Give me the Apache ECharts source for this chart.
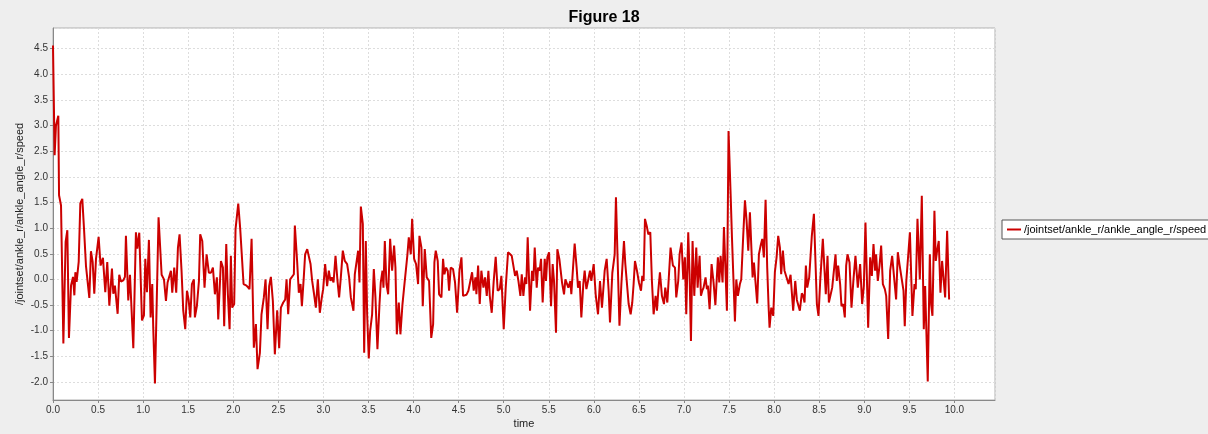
<!DOCTYPE html>
<html>
<head>
<meta charset="utf-8">
<title>Figure 18</title>
<script src="https://cdn.jsdelivr.net/npm/echarts@6/dist/echarts.min.js"></script>
<style>
  html, body { margin: 0; padding: 0; background: #eeeeee; }
  #chart { width: 1208px; height: 434px; }
</style>
</head>
<body>
<div id="chart"></div>
<script>
// Sample times (s) of the ankle speed trace
const times = [
  0.000, 0.018, 0.033, 0.059, 0.067, 0.089, 0.115, 0.140, 0.159, 0.177,
  0.200, 0.222, 0.237, 0.248, 0.262, 0.285, 0.303, 0.325, 0.344, 0.366,
  0.384, 0.403, 0.421, 0.440, 0.458, 0.477, 0.506, 0.528, 0.554, 0.580,
  0.602, 0.625, 0.654, 0.669, 0.687, 0.717, 0.735, 0.754, 0.780, 0.798,
  0.809, 0.835, 0.854, 0.891, 0.920, 0.935, 0.957, 0.987, 1.009, 1.024,
  1.042, 1.064, 1.083, 1.101, 1.112, 1.131, 1.171, 1.205, 1.231, 1.253,
  1.271, 1.293, 1.308, 1.323, 1.345, 1.367, 1.386, 1.404, 1.426, 1.445,
  1.467, 1.486, 1.504, 1.523, 1.541, 1.563, 1.574, 1.596, 1.619, 1.633,
  1.656, 1.681, 1.704, 1.729, 1.752, 1.774, 1.796, 1.818, 1.833, 1.863,
  1.885, 1.899, 1.922, 1.940, 1.959, 1.973, 1.988, 2.010, 2.025, 2.055,
  2.077, 2.092, 2.114, 2.147, 2.166, 2.180, 2.203, 2.228, 2.251, 2.269,
  2.295, 2.313, 2.339, 2.358, 2.380, 2.398, 2.417, 2.439, 2.461, 2.487,
  2.509, 2.528, 2.554, 2.576, 2.591, 2.609, 2.631, 2.653, 2.672, 2.683,
  2.709, 2.727, 2.746, 2.761, 2.783, 2.797, 2.820, 2.842, 2.857, 2.875,
  2.894, 2.916, 2.938, 2.960, 2.982, 2.997, 3.019, 3.041, 3.060, 3.078,
  3.093, 3.112, 3.134, 3.156, 3.174, 3.193, 3.215, 3.237, 3.263, 3.285,
  3.304, 3.333, 3.348, 3.370, 3.385, 3.400, 3.415, 3.437, 3.452, 3.470,
  3.485, 3.503, 3.518, 3.540, 3.559, 3.577, 3.599, 3.622, 3.636, 3.655,
  3.666, 3.681, 3.699, 3.718, 3.740, 3.762, 3.784, 3.799, 3.814, 3.836,
  3.854, 3.877, 3.895, 3.914, 3.932, 3.947, 3.969, 3.984, 4.006, 4.028,
  4.050, 4.065, 4.087, 4.102, 4.124, 4.146, 4.172, 4.196, 4.217, 4.231,
  4.246, 4.268, 4.283, 4.309, 4.327, 4.342, 4.361, 4.379, 4.394, 4.412,
  4.438, 4.460, 4.483, 4.509, 4.531, 4.549, 4.571, 4.586, 4.608, 4.630,
  4.649, 4.667, 4.686, 4.697, 4.716, 4.734, 4.752, 4.775, 4.793, 4.812,
  4.830, 4.845, 4.867, 4.889, 4.911, 4.933, 4.956, 4.974, 5.000, 5.022,
  5.048, 5.067, 5.089, 5.111, 5.126, 5.144, 5.163, 5.185, 5.200, 5.218,
  5.237, 5.251, 5.266, 5.292, 5.314, 5.329, 5.344, 5.366, 5.381, 5.399,
  5.414, 5.432, 5.455, 5.469, 5.484, 5.503, 5.525, 5.543, 5.558, 5.580,
  5.595, 5.617, 5.632, 5.647, 5.669, 5.684, 5.702, 5.717, 5.739, 5.750,
  5.769, 5.787, 5.809, 5.824, 5.843, 5.861, 5.883, 5.898, 5.917, 5.935,
  5.957, 5.972, 5.998, 6.020, 6.046, 6.068, 6.090, 6.120, 6.142, 6.164,
  6.179, 6.205, 6.231, 6.245, 6.260, 6.284, 6.305, 6.334, 6.349, 6.367,
  6.386, 6.408, 6.426, 6.441, 6.456, 6.478, 6.500, 6.523, 6.537, 6.552,
  6.567, 6.589, 6.604, 6.626, 6.644, 6.663, 6.685, 6.700, 6.715, 6.733,
  6.755, 6.778, 6.792, 6.815, 6.837, 6.851, 6.877, 6.900, 6.914, 6.936,
  6.951, 6.973, 6.992, 7.010, 7.025, 7.047, 7.062, 7.077, 7.095, 7.114,
  7.136, 7.151, 7.173, 7.188, 7.203, 7.217, 7.239, 7.254, 7.265, 7.284,
  7.306, 7.328, 7.348, 7.376, 7.391, 7.406, 7.428, 7.443, 7.461, 7.476,
  7.494, 7.517, 7.532, 7.546, 7.565, 7.580, 7.598, 7.620, 7.635, 7.657,
  7.676, 7.694, 7.713, 7.731, 7.746, 7.761, 7.776, 7.790, 7.812, 7.831,
  7.849, 7.868, 7.886, 7.905, 7.923, 7.938, 7.949, 7.968, 7.990, 8.008,
  8.027, 8.045, 8.064, 8.078, 8.097, 8.115, 8.137, 8.160, 8.182, 8.197,
  8.211, 8.234, 8.252, 8.267, 8.285, 8.307, 8.322, 8.337, 8.352, 8.367,
  8.389, 8.418, 8.441, 8.463, 8.474, 8.492, 8.511, 8.525, 8.540, 8.559,
  8.573, 8.592, 8.607, 8.625, 8.644, 8.662, 8.681, 8.695, 8.710, 8.732,
  8.747, 8.766, 8.784, 8.799, 8.814, 8.836, 8.858, 8.880, 8.902, 8.928,
  8.954, 8.976, 8.995, 9.013, 9.043, 9.065, 9.084, 9.102, 9.120, 9.131,
  9.150, 9.169, 9.187, 9.206, 9.228, 9.243, 9.265, 9.287, 9.309, 9.331,
  9.353, 9.372, 9.390, 9.405, 9.435, 9.449, 9.466, 9.485, 9.506, 9.534,
  9.557, 9.571, 9.590, 9.616, 9.638, 9.660, 9.675, 9.690, 9.704, 9.727,
  9.741, 9.756, 9.778, 9.793, 9.808, 9.826, 9.845, 9.863, 9.882, 9.897,
  9.919, 9.941
];

// /jointset/ankle_r/ankle_angle_r/speed at each sample time
const speed = [
  4.56, 2.42, 3.00, 3.19, 1.64, 1.44, -1.25, 0.73, 0.96, -1.14,
  -0.12, 0.05, -0.31, 0.14, -0.05, 0.34, 1.48, 1.57, 0.99, 0.26,
  0.24, -0.36, 0.55, 0.34, -0.28, 0.40, 0.83, 0.27, 0.42, -0.25,
  0.34, -0.51, 0.21, -0.28, -0.12, -0.67, 0.09, -0.04, -0.02, 0.05,
  0.85, -0.41, 0.09, -1.34, 0.92, 0.60, 0.91, -0.80, -0.70, 0.40,
  -0.25, 0.77, -0.74, -0.09, -0.94, -2.03, 1.21, 0.09, 0.00, -0.42,
  -0.06, -0.03, 0.17, -0.26, 0.23, -0.26, 0.62, 0.88, 0.17, -0.61,
  -0.97, -0.22, -0.39, -0.74, -0.09, 0.00, -0.74, -0.52, -0.03, 0.88,
  0.75, -0.16, 0.49, 0.13, 0.13, 0.23, -0.29, 0.04, -0.78, 0.36,
  0.23, -0.91, 0.69, -0.29, -0.97, 0.46, -0.55, -0.48, 0.98, 1.48,
  0.98, 1.01, -0.09, -0.12, -0.09, -0.19, 0.79, -1.33, -0.87, -1.75,
  -1.43, -0.68, -0.35, 0.00, -0.97, -0.13, 0.05, -0.42, -1.46, -0.60,
  -1.34, -0.55, -0.45, -0.39, 0.00, -0.68, 0.00, 0.00, 0.10, 1.05,
  0.33, -0.26, -0.09, -0.52, 0.07, 0.49, 0.59, 0.56, 0.30, -0.03,
  -0.26, -0.55, 0.00, -0.65, -0.35, -0.19, 0.30, -0.13, 0.17, -0.03,
  0.04, -0.06, 0.46, -0.03, -0.35, 0.04, 0.56, 0.36, 0.30, 0.04,
  -0.35, -0.61, 0.10, 0.10, 0.56, -0.06, 1.42, 1.08, -1.43, 0.75,
  -0.68, -1.54, -1.01, -0.68, 0.20, -0.35, -1.36, -0.48, -0.06, 0.17,
  -0.16, 0.75, -0.09, -0.29, 0.79, 0.17, 0.66, 0.23, -1.07, -0.45,
  -1.07, -0.48, -0.16, -0.13, 0.49, 0.82, 0.49, 1.18, 0.40, 0.30,
  -0.09, 0.85, 0.62, -0.52, 0.59, 0.04, -0.03, -1.14, -0.87, 0.33,
  0.56, 0.36, -0.29, -0.35, 0.40, 0.10, 0.23, 0.17, -0.22, 0.23,
  0.20, -0.06, -0.65, 0.17, 0.43, -0.32, -0.35, -0.30, -0.22, -0.03,
  0.14, -0.22, 0.04, -0.29, 0.27, -0.48, 0.17, -0.16, 0.04, -0.32,
  0.17, -0.32, -0.65, -0.03, 0.44, -0.22, -0.19, 0.07, -0.97, -0.16,
  0.53, 0.56, 0.46, 0.49, 0.07, 0.17, -0.03, -0.32, 0.10, -0.32,
  0.04, -0.09, 0.82, -0.61, 0.17, -0.03, 0.62, -0.16, 0.23, 0.17,
  0.40, -0.45, 0.40, -0.03, 0.43, 0.53, -0.52, 0.30, -0.03, -1.04,
  0.59, 0.40, 0.17, -0.06, -0.29, 0.00, -0.03, -0.16, -0.03, -0.29,
  0.23, 0.70, 0.23, -0.16, -0.03, -0.74, -0.09, 0.17, -0.19, -0.03,
  0.17, -0.03, 0.30, -0.29, -0.68, -0.03, -0.55, 0.17, 0.40, -0.22,
  -0.84, 0.13, 0.49, 1.60, 0.62, -0.90, -0.10, 0.75, 0.30, 0.33,
  -0.48, -0.68, -0.45, -0.09, 0.36, 0.17, -0.06, -0.22, 0.07, -0.03,
  1.18, 1.02, 0.88, 0.92, -0.03, -0.68, -0.32, -0.61, -0.22, 0.14,
  -0.32, -0.48, -0.16, -0.45, -0.45, 0.62, 0.27, 0.23, -0.35, -0.03,
  0.49, 0.72, 0.00, 0.43, -0.68, 0.92, 0.10, -1.20, 0.75, -0.32,
  0.62, -0.16, 0.46, -0.32, -0.22, -0.16, 0.04, -0.19, -0.12, -0.58,
  0.30, -0.06, -0.50, 0.43, -0.06, 0.46, -0.06, 1.02, 1.02, -0.61,
  2.89, 1.67, 0.82, 0.83, -0.82, 0.00, -0.32, -0.09, 0.00, 0.85,
  1.54, 1.15, 0.56, 1.31, 1.28, 0.04, 0.33, 0.31, -0.47, 0.49,
  0.65, 0.79, 0.43, 1.55, 0.23, -0.51, -0.94, -0.55, -0.71, 0.14,
  0.43, 0.85, 0.62, 0.10, 0.56, 0.17, 0.14, -0.09, 0.09, 0.07,
  -0.61, -0.03, -0.40, -0.38, -0.61, -0.27, -0.32, -0.45, 0.27, -0.16,
  0.04, 0.85, 1.28, 0.10, -0.48, -0.71, -0.03, -0.06, 0.79, 0.17,
  -0.29, 0.46, -0.45, -0.45, -0.16, -0.13, 0.49, -0.03, 0.27, -0.09,
  -0.52, -0.48, -0.74, 0.27, 0.49, 0.33, -0.55, 0.00, 0.46, -0.16,
  0.30, -0.48, -0.13, 1.11, -0.94, 0.43, 0.07, 0.69, 0.17, 0.49,
  -0.03, 0.27, 0.66, -0.09, -0.19, -0.32, -1.16, 0.17, 0.46, 0.44,
  -0.39, 0.53, 0.30, 0.33, -0.22, -0.91, -0.03, -0.03, 0.92, -0.71,
  -0.09, -0.19, 1.18, 0.00, 1.63, -0.97, -0.13, -0.16, -1.99, 0.49,
  -0.48, -0.71, 1.34, 0.36, 0.56, 0.75, -0.26, 0.36, 0.36, -0.35,
  0.95, -0.39
];

const seriesName = '/jointset/ankle_r/ankle_angle_r/speed';
const chartTitle = 'Figure 18';
const xAxisName = 'time';

const points = times.map((t, i) => [t, speed[i]]);

const FONT = 'Liberation Sans, Arial, sans-serif';
const chart = echarts.init(document.getElementById('chart'), null, { renderer: 'canvas' });

chart.setOption({
  animation: false,
  backgroundColor: '#eeeeee',
  title: {
    text: chartTitle,
    left: 'center',
    top: 5,
    textStyle: { fontFamily: FONT, fontSize: 16, fontWeight: 'bold', color: '#000' }
  },
  legend: {
    data: [seriesName],
    orient: 'vertical',
    left: 1002,
    top: 220,
    padding: [4, 5, 4, 5],
    backgroundColor: '#ffffff',
    borderColor: '#555555',
    borderWidth: 1,
    borderRadius: 0,
    icon: 'rect',
    itemWidth: 14,
    itemHeight: 2,
    itemGap: 0,
    textStyle: { fontFamily: FONT, fontSize: 11, color: '#000', padding: [0, 0, 0, -2] }
  },
  grid: {
    left: 53,
    right: 213,
    top: 28,
    bottom: 34,
    outerBoundsMode: 'none',
    containLabel: false,
    show: true,
    backgroundColor: '#ffffff',
    borderColor: '#b0b0b0',
    borderWidth: 1
  },
  xAxis: {
    type: 'value',
    min: 0,
    max: 10.45,
    splitNumber: 21,
    name: xAxisName,
    nameLocation: 'middle',
    nameGap: 18,
    nameMoveOverlap: false,
    nameTextStyle: { fontFamily: FONT, fontSize: 11, color: '#222' },
    axisLine: { show: true, onZero: false, lineStyle: { color: '#888', width: 1 } },
    axisTick: { show: true, length: 3, lineStyle: { color: '#888' } },
    axisLabel: {
      fontFamily: FONT, fontSize: 10, color: '#333', margin: 5,
      showMaxLabel: false,
      formatter: v => v.toFixed(1)
    },
    splitLine: { show: true, lineStyle: { color: '#dddddd', type: [2, 2], width: 1 } }
  },
  yAxis: {
    type: 'value',
    min: -2.35,
    max: 4.9,
    splitNumber: 14,
    name: seriesName,
    nameLocation: 'middle',
    nameGap: 28,
    nameMoveOverlap: false,
    nameTextStyle: { fontFamily: FONT, fontSize: 11, color: '#222' },
    axisLine: { show: true, lineStyle: { color: '#888', width: 1 } },
    axisTick: { show: true, length: 3, lineStyle: { color: '#888' } },
    axisLabel: {
      fontFamily: FONT, fontSize: 10, color: '#333', margin: 5,
      showMinLabel: false,
      showMaxLabel: false,
      formatter: v => v.toFixed(1)
    },
    splitLine: { show: true, lineStyle: { color: '#dddddd', type: [2, 2], width: 1 } }
  },
  series: [{
    name: seriesName,
    type: 'line',
    data: points,
    showSymbol: false,
    symbol: 'none',
    lineStyle: { color: '#cc0000', width: 2 },
    itemStyle: { color: '#cc0000' }
  }]
});
</script>
</body>
</html>
